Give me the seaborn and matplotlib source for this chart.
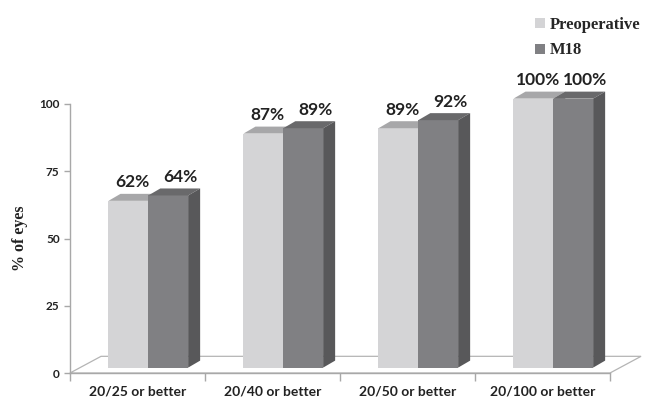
import matplotlib
matplotlib.use("Agg")
import matplotlib.pyplot as plt
from matplotlib.patches import Polygon, Patch
import numpy as np
import pandas as pd
import seaborn as sns

categories = ["20/25 or better", "20/40 or better", "20/50 or better", "20/100 or better"]
preoperative = [62, 87, 89, 100]
m18 = [64, 89, 92, 100]
series = ["Preoperative", "M18"]
y_ticks = [0, 25, 50, 75, 100]

# face colours: front, top, side for each series
faces = {
    "Preoperative": ("#d4d4d6", "#a7a7a9", "#9a9a9c"),
    "M18": ("#808083", "#69696b", "#58585a"),
}
# horizontal nudge of the value labels (points) for each series
label_nudge = {"Preoperative": 3.0, "M18": 8.5}

df = pd.DataFrame({
    "category": categories * 2,
    "value": preoperative + m18,
    "period": [series[0]] * len(categories) + [series[1]] * len(categories),
})

sns.set_theme(style="white")
plt.rcParams["font.family"] = ["Lato", "DejaVu Sans"]
serif = ["Liberation Serif", "DejaVu Serif"]

fig = plt.figure(figsize=(6.47, 4.0), dpi=100)
ax = fig.add_axes([70 / 647, 1 - 373 / 400, 540 / 647, 269 / 400])

sns.barplot(
    data=df, x="category", y="value", hue="period", hue_order=series,
    palette=[faces[s][0] for s in series], saturation=1, width=0.59,
    dodge=True, legend=False, ax=ax, linewidth=0,
)

ax.set_xlim(-0.5, 3.5)
ax.set_ylim(0, 100)

# perspective offsets (data units)
bar_dx, bar_dy = 0.089, 2.6
floor_dx, floor_dy = 0.23, 6.2
shift, base = 0.08, 2.0

# floor plane
floor = Polygon(
    [(-0.5, 0), (3.5, 0), (3.5 + floor_dx, floor_dy), (-0.5 + floor_dx, floor_dy)],
    closed=True, facecolor="white", edgecolor="#b4b4b4", linewidth=0.9,
    clip_on=False, zorder=0.5,
)
ax.add_patch(floor)

for name, container in zip(series, ax.containers):
    front, top, side = faces[name]
    for bar, val in zip(container.patches, df.loc[df.period == name, "value"]):
        bar.set_x(bar.get_x() + shift)
        bar.set_y(base)
        x0 = bar.get_x()
        w = bar.get_width()
        h = bar.get_height()
        x1 = x0 + w
        y1 = base + h
        z = 2 + x0
        bar.set_zorder(z)
        bar.set_clip_on(False)
        ax.add_patch(Polygon(
            [(x0, y1), (x1, y1), (x1 + bar_dx, y1 + bar_dy), (x0 + bar_dx, y1 + bar_dy)],
            closed=True, facecolor=top, edgecolor="none", zorder=z, clip_on=False))
        ax.add_patch(Polygon(
            [(x1, base), (x1 + bar_dx, base + bar_dy), (x1 + bar_dx, y1 + bar_dy), (x1, y1)],
            closed=True, facecolor=side, edgecolor="none", zorder=z, clip_on=False))
        ax.annotate(
            f"{val:g}%", xy=(x0 + w / 2, y1 + bar_dy),
            xytext=(label_nudge[name], 2.5), textcoords="offset points",
            ha="center", va="bottom",
            fontsize=12.5, fontweight="bold", color="#222222", zorder=20,
            annotation_clip=False,
        )

# axes styling
for s in ["top", "right"]:
    ax.spines[s].set_visible(False)
for s in ["left", "bottom"]:
    ax.spines[s].set_color("#a8a8a8")
    ax.spines[s].set_linewidth(1.0)
ax.spines["bottom"].set_zorder(0.6)

ax.set_yticks(y_ticks)
ax.set_yticklabels([str(t) for t in y_ticks])
ax.tick_params(axis="y", direction="out", length=4, width=1, color="#a8a8a8",
               pad=3.5, labelsize=8.5, labelcolor="#222222", left=True)
for lbl in ax.get_yticklabels():
    lbl.set_fontweight("bold")

ax.set_xticks(range(len(categories)))
ax.set_xticklabels(categories)
ax.set_xticks(np.arange(-0.5, len(categories), 1.0), minor=True)
ax.tick_params(axis="x", which="major", length=0, pad=9, labelsize=10,
               labelcolor="#222222")
ax.tick_params(axis="x", which="minor", direction="out", length=6, width=1,
               color="#a8a8a8", bottom=True)
for lbl in ax.get_xticklabels():
    lbl.set_fontweight("bold")

ax.set_xlabel("")
ax.set_ylabel("% of eyes", family=serif, fontweight="bold", fontsize=11.5,
              color="#222222", labelpad=8)
ax.grid(False)

handles = [Patch(facecolor=faces[s][0], edgecolor="none") for s in series]
fig.legend(
    handles, series, loc="upper left", bbox_to_anchor=(527 / 647, 1 - 9 / 400),
    frameon=False, borderpad=0, handlelength=0.55, handleheight=0.55,
    handletextpad=0.3, labelspacing=0.55,
    prop={"family": serif, "weight": "bold", "size": 12},
)

fig.savefig("out.png", dpi=100, facecolor="white")
